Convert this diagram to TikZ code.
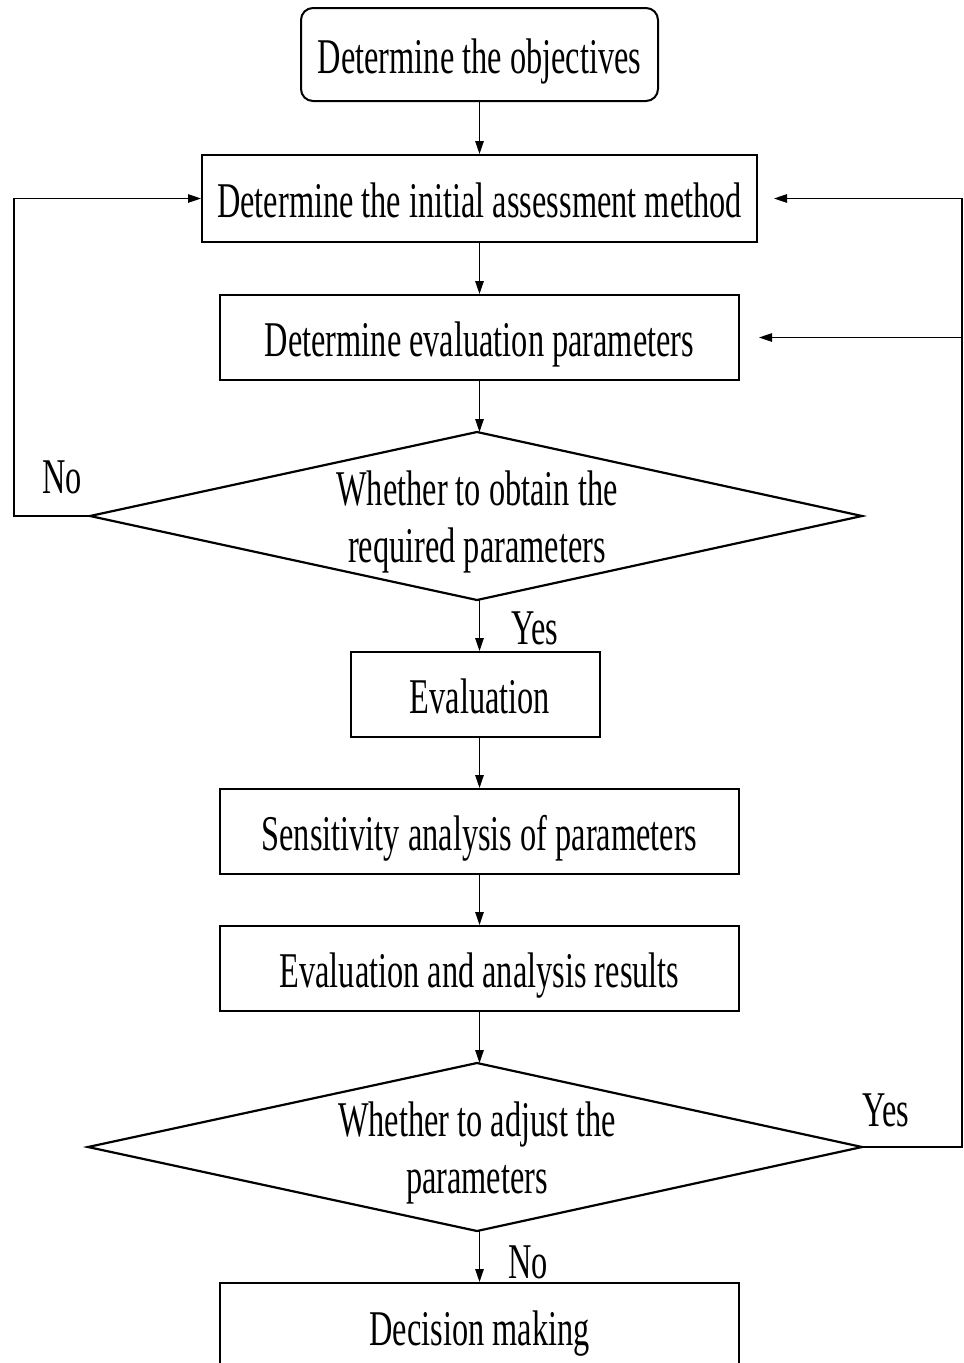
\documentclass[tikz,border=0pt]{standalone}
\usepackage{fontspec}
\newfontfamily\tf[FakeStretch=0.647]{Liberation Serif}
\usetikzlibrary{arrows.meta}
\begin{document}
\begin{tikzpicture}[x=1pt,y=-1pt,
  every node/.style={font=\tf\fontsize{50}{57}\selectfont, inner sep=0pt},
  box/.style={draw, line width=2pt, rectangle, text height=42pt, text depth=4pt},
  dia/.style={draw, line width=2.2pt, line join=miter},
  arr/.style={line width=1.3pt, -{Triangle[length=13pt,width=8.5pt]}},
  fb/.style={line width=1.2pt, -{Triangle[length=13pt,width=8.5pt]}},
  lbl/.style={anchor=center}
]
\useasboundingbox (0,0) rectangle (964,1363);
% boxes
\node[box, rounded corners=12pt, minimum width=357pt, minimum height=93pt] (b1) at (479.5,54.5) {Determine the objectives};
\node[box, minimum width=555pt, minimum height=87pt] (b2) at (479.5,198.5) {Determine the initial assessment method};
\node[box, minimum width=519pt, minimum height=85pt] (b3) at (479.5,337.5) {Determine evaluation parameters};
% diamond 1
\coordinate (d1t) at (477,432);
\coordinate (d1r) at (862,516);
\coordinate (d1b) at (477,600);
\coordinate (d1l) at (90,516);
\draw[dia] (d1t) -- (d1r) -- (d1b) -- (d1l) -- cycle;
\node[align=center] (d1) at (477,522) {Whether to obtain the\\required parameters};
\node[box, minimum width=249pt, minimum height=85pt] (b4) at (475.5,694.5) {\hspace*{9pt}Evaluation};
\node[box, minimum width=519pt, minimum height=85pt] (b5) at (479.5,831.5) {Sensitivity analysis of parameters};
\node[box, minimum width=519pt, minimum height=85pt] (b6) at (479.5,968.5) {Evaluation and analysis results};
% diamond 2
\coordinate (d2t) at (477,1063);
\coordinate (d2r) at (862,1147);
\coordinate (d2b) at (477,1231);
\coordinate (d2l) at (88,1147);
\draw[dia] (d2t) -- (d2r) -- (d2b) -- (d2l) -- cycle;
\node[align=center] (d2) at (477,1153) {Whether to adjust the\\parameters};
\node[box, minimum width=519pt, minimum height=97pt] (b7) at (479.5,1331.5) {};
\node[text height=42pt, text depth=4pt] (b7t) at (479.5,1326) {Decision making};
% vertical arrows
\draw[arr] (b1) -- (b2);
\draw[arr] (b2) -- (b3);
\draw[arr] (b3.south) -- (b3.south |- d1t);
\draw[arr] (b4.north -| b3.south) ++(0,-52) -- (b4.north -| b3.south);
\draw[arr] (b4.south -| b3.south) -- (b5.north);
\draw[arr] (b5) -- (b6);
\draw[arr] (b6.south) -- (b6.south |- d2t);
\draw[arr] (b7.north) ++(0,-52) -- (b7.north);
% feedback: No
\coordinate (nl) at (14,516);
\draw[fb] (d1l) -- (nl) |- (b2.west);
% feedback: Yes
\coordinate (yr) at (962,1147);
\draw[fb] (d2r) -- (yr) |- ([xshift=16pt]b2.east);
\draw[fb] (yr |- b3.east) -- ([xshift=19pt]b3.east);
% labels
\node[lbl] (lno1) at (62,477) {No};
\node[lbl] (lyes1) at (535,628) {Yes};
\node[lbl] (lyes2) at (886,1110) {Yes};
\node[lbl] (lno2) at (528,1262) {No};
\end{tikzpicture}
\end{document}
